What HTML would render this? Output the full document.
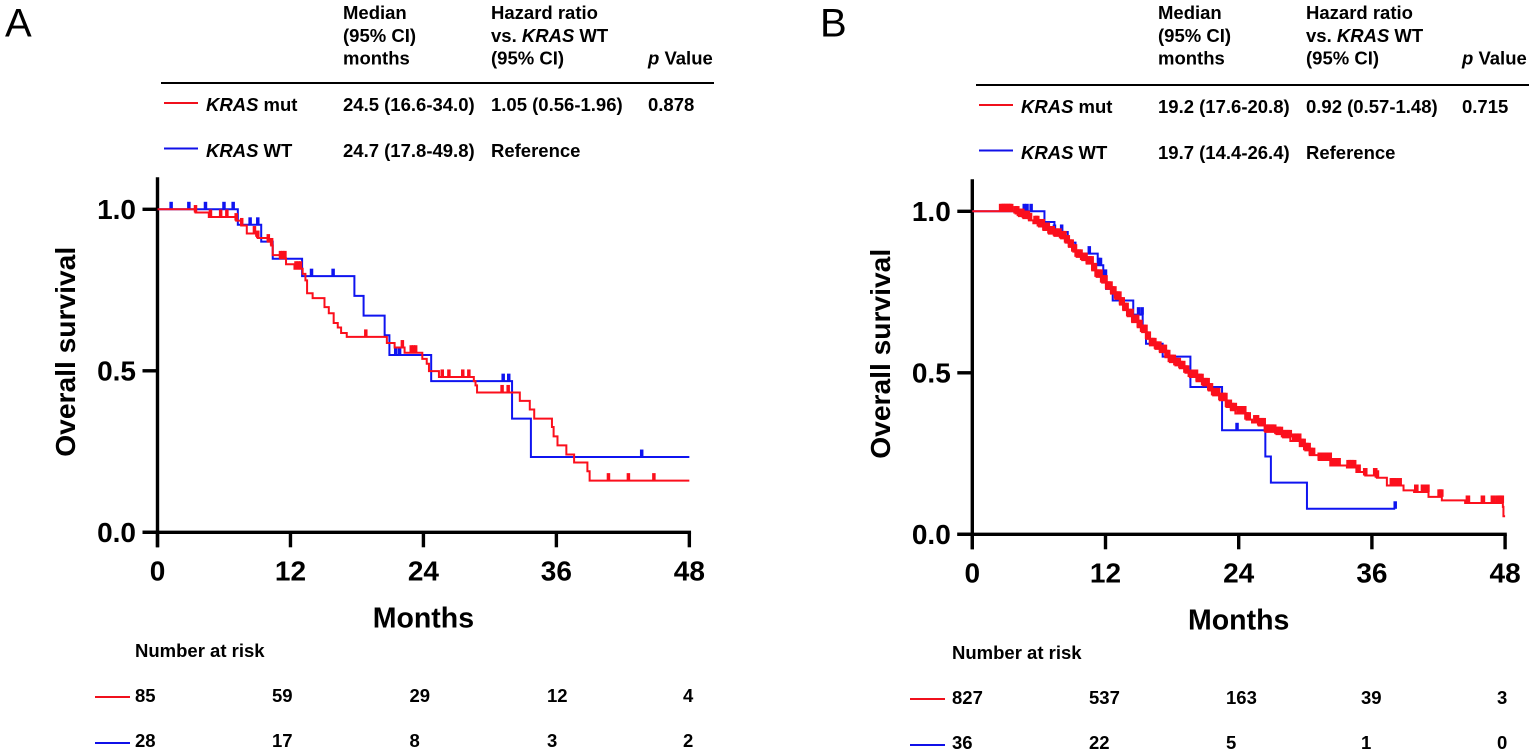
<!DOCTYPE html>
<html lang="en">
<head>
<meta charset="utf-8">
<title>Overall survival by KRAS status</title>
<style>
html,body{margin:0;padding:0;background:#fff;}
svg{display:block;}
text{font-family:"Liberation Sans",Arial,sans-serif;font-weight:bold;fill:#000;}
.t{font-size:18.5px;}
.k{font-style:italic;}
</style>
</head>
<body>
<svg id="chart" width="1535" height="755" viewBox="0 0 1535 755" xmlns="http://www.w3.org/2000/svg">
  <g>
    <text x="5" y="36.5" style="font-size:40px;font-weight:normal">A</text>
    <text class="t" x="343" y="19">Median</text>
    <text class="t" x="343" y="42">(95% CI)</text>
    <text class="t" x="343" y="64.5">months</text>
    <text class="t" x="491" y="19">Hazard ratio</text>
    <text class="t" x="491" y="42">vs. <tspan class="k">KRAS</tspan> WT</text>
    <text class="t" x="491" y="64.5">(95% CI)</text>
    <text class="t" x="648" y="64.5"><tspan class="k">p</tspan> Value</text>
    <line x1="161" y1="83" x2="714" y2="83" stroke="#000" stroke-width="2"/>
    <line x1="164" y1="103" x2="198" y2="103" stroke="#f0101c" stroke-width="2"/>
    <text class="t" x="206" y="111"><tspan class="k">KRAS</tspan> mut</text>
    <text class="t" x="343" y="111">24.5 (16.6-34.0)</text>
    <text class="t" x="491" y="111">1.05 (0.56-1.96)</text>
    <text class="t" x="648" y="111">0.878</text>
    <line x1="164" y1="148.5" x2="198" y2="148.5" stroke="#1010e8" stroke-width="2"/>
    <text class="t" x="206" y="157"><tspan class="k">KRAS</tspan> WT</text>
    <text class="t" x="343" y="157">24.7 (17.8-49.8)</text>
    <text class="t" x="491" y="157">Reference</text>
  </g>
  <g>
    <text x="820" y="36.5" style="font-size:40px;font-weight:normal">B</text>
    <text class="t" x="1158" y="19">Median</text>
    <text class="t" x="1158" y="42">(95% CI)</text>
    <text class="t" x="1158" y="64.5">months</text>
    <text class="t" x="1306" y="19">Hazard ratio</text>
    <text class="t" x="1306" y="42">vs. <tspan class="k">KRAS</tspan> WT</text>
    <text class="t" x="1306" y="64.5">(95% CI)</text>
    <text class="t" x="1462" y="64.5"><tspan class="k">p</tspan> Value</text>
    <line x1="976" y1="85" x2="1529" y2="85" stroke="#000" stroke-width="2"/>
    <line x1="979" y1="105" x2="1013" y2="105" stroke="#f0101c" stroke-width="2"/>
    <text class="t" x="1021" y="113"><tspan class="k">KRAS</tspan> mut</text>
    <text class="t" x="1158" y="113">19.2 (17.6-20.8)</text>
    <text class="t" x="1306" y="113">0.92 (0.57-1.48)</text>
    <text class="t" x="1462" y="113">0.715</text>
    <line x1="979" y1="150.5" x2="1013" y2="150.5" stroke="#1010e8" stroke-width="2"/>
    <text class="t" x="1021" y="159"><tspan class="k">KRAS</tspan> WT</text>
    <text class="t" x="1158" y="159">19.7 (14.4-26.4)</text>
    <text class="t" x="1306" y="159">Reference</text>
  </g>
  <g>
    <text class="t" x="135" y="657">Number at risk</text>
    <line x1="95" y1="697" x2="130" y2="697" stroke="#f0101c" stroke-width="2"/>
    <line x1="95" y1="743" x2="130" y2="743" stroke="#1010e8" stroke-width="2"/>
  </g>
  <g>
    <text class="t" x="952" y="659">Number at risk</text>
    <line x1="910" y1="699" x2="945" y2="699" stroke="#f0101c" stroke-width="2"/>
    <line x1="910" y1="745" x2="945" y2="745" stroke="#1010e8" stroke-width="2"/>
  </g>
</svg>
<script>
const monthTicks = [0, 12, 24, 36, 48];
const survivalTicks = [0, 0.5, 1];
const survivalTickLabels = ['0.0', '0.5', '1.0'];

const aMutMonths = [0,3.43,4.63,7.1,7.55,8.06,8.9,9.05,9.95,10.26,10.4,11.07,11.6,12.36,13.1,13.35,13.5,14,15.07,15.46,15.9,16.27,16.57,17.08,20.7,21.4,22.3,23.9,24.3,24.5,25.4,28.55,28.7,28.84,32.7,33.6,34,35.6,35.75,36.1,36.9,37.6,38.8,39];
const aMutSurvival = [1,0.99,0.976,0.965,0.95,0.925,0.918,0.911,0.9,0.888,0.858,0.848,0.83,0.816,0.8,0.78,0.74,0.725,0.697,0.678,0.648,0.634,0.617,0.605,0.586,0.572,0.556,0.537,0.522,0.499,0.481,0.468,0.455,0.433,0.407,0.38,0.352,0.326,0.297,0.269,0.241,0.216,0.189,0.16];
const aMutCensored = [3.43,4.78,5.7,6.26,7.1,7.6,8.75,9.05,10,10.3,11.1,11.3,11.5,12.5,12.7,12.9,18.8,22.1,22.9,23.1,23.3,25.7,26.3,27.55,28.1,31.1,31.65,40.7,42.5,44.8];

const aWtMonths = [0,7.25,9.36,10.4,13.05,17.77,18.6,20.5,20.93,24.7,32,33.7];
const aWtSurvival = [1,0.952,0.9,0.847,0.793,0.732,0.671,0.61,0.549,0.468,0.352,0.233];
const aWtCensored = [1.23,2.83,4.33,6,6.83,8.36,9.05,13.9,15.85,21.5,21.85,31.2,31.7,43.7];

const bMutMonths = [0,3.9,4.2,4.6,5.1,5.5,6,6.4,6.9,7.4,8,8.4,8.7,9.1,9.4,9.9,10.3,10.8,11.2,11.7,12.1,12.5,12.9,13.3,13.6,14,14.4,14.9,15.3,15.7,16,16.5,16.9,17.4,17.8,18.3,18.7,19.2,19.6,20.2,20.8,21.3,21.7,22.3,22.9,23.3,23.7,24.7,25.2,25.8,26.4,27.4,28,28.65,29.5,30,30.4,31.2,32.25,33.75,34.6,35.4,36.45,37.35,38.85,39.8,41.1,42.3,44.4,47.8,47.85];
const bMutSurvival = [1,0.993,0.985,0.979,0.972,0.963,0.953,0.942,0.931,0.924,0.916,0.903,0.89,0.875,0.859,0.849,0.838,0.817,0.797,0.779,0.76,0.745,0.729,0.711,0.694,0.675,0.657,0.641,0.626,0.605,0.585,0.574,0.564,0.548,0.533,0.523,0.514,0.5,0.487,0.474,0.461,0.445,0.43,0.415,0.394,0.384,0.374,0.355,0.346,0.337,0.317,0.31,0.3,0.289,0.273,0.26,0.245,0.23,0.213,0.207,0.193,0.182,0.175,0.151,0.136,0.131,0.116,0.105,0.097,0.085,0.056];
const bMutCensored = [2.6,2.75,2.9,3.05,3.2,3.35,3.5,3.9,4.05,4.2,4.35,4.5,4.65,4.8,5,5.2,5.7,5.85,6,6.2,6.35,6.5,6.65,6.8,6.95,7.1,7.25,7.45,7.65,7.85,8,8.15,8.3,8.45,8.6,8.8,8.95,9.1,9.25,9.4,9.6,9.75,9.9,10.05,10.2,10.4,10.6,10.75,10.9,11.05,11.2,11.4,11.55,11.7,11.85,12,12.15,12.3,12.45,12.6,12.8,12.95,13.1,13.25,13.4,13.55,13.7,13.9,14.05,14.2,14.35,14.5,14.7,14.85,15,15.15,15.3,15.45,15.6,15.75,15.9,16.1,16.25,16.4,16.55,16.7,16.85,17,17.2,17.35,17.5,17.65,17.8,18,18.15,18.3,18.45,18.6,18.75,19,19.2,19.35,19.6,19.75,19.95,20.15,20.3,20.5,20.65,20.8,21,21.2,21.35,21.5,21.7,21.95,22.15,22.35,22.5,22.65,22.8,22.95,23.2,23.4,23.65,24,24.15,24.3,24.5,24.7,24.9,25.5,25.65,25.85,26.1,26.25,26.45,26.6,26.8,27,27.2,27.4,27.6,27.8,28,28.2,28.4,28.6,29,29.2,29.45,29.7,29.85,30,30.15,30.3,30.5,30.7,31.3,31.5,31.7,32,32.2,32.45,32.7,33,33.9,34.05,34.2,34.4,34.8,35.4,36.3,36.45,37.8,37.95,38.1,38.5,40,40.6,40.8,41,42.1,42.25,44.65,46,46.9,47.3,47.45,47.6,47.7];

const bWtMonths = [0,6.5,7.4,8.6,9.3,11.3,11.8,12.05,12.65,14.5,15.35,15.65,17.15,19.65,22.5,26.4,26.9,30.15];
const bWtSurvival = [1,0.967,0.936,0.903,0.869,0.833,0.797,0.76,0.724,0.68,0.64,0.59,0.55,0.456,0.322,0.241,0.16,0.079];
const bWtCensored = [4.68,4.93,5.3,7.4,8.05,8.6,10.54,11.4,11.55,12,14.98,15.3,23.85,38.1];
const bWtEnd = 38.1;

const riskCountsAMut = ['85', '59', '29', '12', '4'];
const riskCountsAWt = ['28', '17', '8', '3', '2'];
const riskCountsBMut = ['827', '537', '163', '39', '3'];
const riskCountsBWt = ['36', '22', '5', '1', '0'];

const NS = 'http://www.w3.org/2000/svg';
const chart = document.getElementById('chart');
const RED = '#fb0f1c';
const BLUE = '#0f14f0';

function node(parent, tag, attrs, text) {
  const el = document.createElementNS(NS, tag);
  Object.keys(attrs).forEach(function (k) { el.setAttribute(k, attrs[k]); });
  if (text !== undefined) el.textContent = text;
  parent.appendChild(el);
  return el;
}

function stepAt(months, survival, m) {
  let s = survival[0];
  for (let i = 0; i < months.length; i++) {
    if (months[i] <= m) s = survival[i];
  }
  return s;
}

function drawSeries(group, name, color, months, survival, censored, endMonth, markWidth, xScale, yScale) {
  let d = 'M' + xScale(months[0]) + ' ' + yScale(survival[0]);
  for (let i = 1; i < months.length; i++) {
    d += 'H' + xScale(months[i]).toFixed(2) + 'V' + yScale(survival[i]).toFixed(2);
  }
  d += 'H' + xScale(endMonth).toFixed(2);
  const curve = node(group, 'path', { d: d, fill: 'none', stroke: color, 'stroke-width': 2, 'stroke-linejoin': 'miter' });
  
  
  censored.forEach(function (m) {
    const y = yScale(stepAt(months, survival, m));
    const mark = node(group, 'line', { x1: xScale(m), x2: xScale(m), y1: y, y2: y - 7.5, stroke: color, 'stroke-width': markWidth });
    
    
  });
}

function drawPanel(p) {
  const xScale = function (m) { return p.x0 + m * p.xUnit; };
  const yScale = function (s) { return p.y0 - s * p.yUnit; };

  const axes = node(chart, 'g', {});
  
  

  const yAxis = node(axes, 'line', { x1: p.x0, x2: p.x0, y1: p.y0 - p.axisTop, y2: p.y0 + 15, stroke: '#000', 'stroke-width': 3.4 });
  
  

  const xAxis = node(axes, 'line', { x1: p.x0 - 15, x2: xScale(48) + 1.7, y1: p.y0, y2: p.y0, stroke: '#000', 'stroke-width': 3.4 });
  
  

  survivalTicks.forEach(function (s, i) {
    const tick = node(axes, 'line', { x1: p.x0 - 15, x2: p.x0, y1: yScale(s), y2: yScale(s), stroke: '#000', 'stroke-width': 3.4 });
    
    
    const label = node(axes, 'text', { x: p.x0 - 21.5, y: yScale(s) + 9.5, 'text-anchor': 'end', style: 'font-size:28px' }, survivalTickLabels[i]);
    
    
  });

  monthTicks.forEach(function (m) {
    const tick = node(axes, 'line', { x1: xScale(m), x2: xScale(m), y1: p.y0, y2: p.y0 + 15, stroke: '#000', 'stroke-width': 3.4 });
    
    
    const label = node(axes, 'text', { x: xScale(m), y: p.y0 + 48, 'text-anchor': 'middle', style: 'font-size:28px' }, String(m));
    
    
  });

  const xTitle = node(axes, 'text', { x: xScale(24), y: p.y0 + 95, 'text-anchor': 'middle', style: 'font-size:28.5px' }, 'Months');
  
  

  const yMid = p.y0 - 180.5;
  const yTitle = node(axes, 'text', { x: 0, y: 0, transform: 'translate(' + (p.x0 - 82.5) + ' ' + yMid + ') rotate(-90)', 'text-anchor': 'middle', style: 'font-size:28.2px' }, 'Overall survival');
  
  

  const wt = node(chart, 'g', {});
  
  
  drawSeries(wt, 'kras-wt', BLUE, p.wtMonths, p.wtSurvival, p.wtCensored, p.wtEnd, 3.5, xScale, yScale);

  const mut = node(chart, 'g', {});
  
  
  drawSeries(mut, 'kras-mut', RED, p.mutMonths, p.mutSurvival, p.mutCensored, 48, p.mutMarkWidth, xScale, yScale);

  p.riskColumns.forEach(function (x, i) {
    const a = node(chart, 'text', { x: x, y: p.riskRows[0], class: 't' }, p.riskMut[i]);
    
    
    const b = node(chart, 'text', { x: x, y: p.riskRows[1], class: 't' }, p.riskWt[i]);
    
    
  });
}

drawPanel({
  id: 'a', x0: 157.5, xUnit: 11.08, y0: 532.3, yUnit: 323, axisTop: 355, mutMarkWidth: 3.5,
  mutMonths: aMutMonths, mutSurvival: aMutSurvival, mutCensored: aMutCensored,
  wtMonths: aWtMonths, wtSurvival: aWtSurvival, wtCensored: aWtCensored, wtEnd: 48,
  riskColumns: [135, 272, 409.5, 547, 683], riskRows: [702, 747],
  riskMut: riskCountsAMut, riskWt: riskCountsAWt
});
drawPanel({
  id: 'b', x0: 972.3, xUnit: 11.1, y0: 534.3, yUnit: 323, axisTop: 355, mutMarkWidth: 4.6,
  mutMonths: bMutMonths, mutSurvival: bMutSurvival, mutCensored: bMutCensored,
  wtMonths: bWtMonths, wtSurvival: bWtSurvival, wtCensored: bWtCensored, wtEnd: bWtEnd,
  riskColumns: [952, 1089, 1226, 1361, 1497], riskRows: [704, 749],
  riskMut: riskCountsBMut, riskWt: riskCountsBWt
});
</script>
</body>
</html>
